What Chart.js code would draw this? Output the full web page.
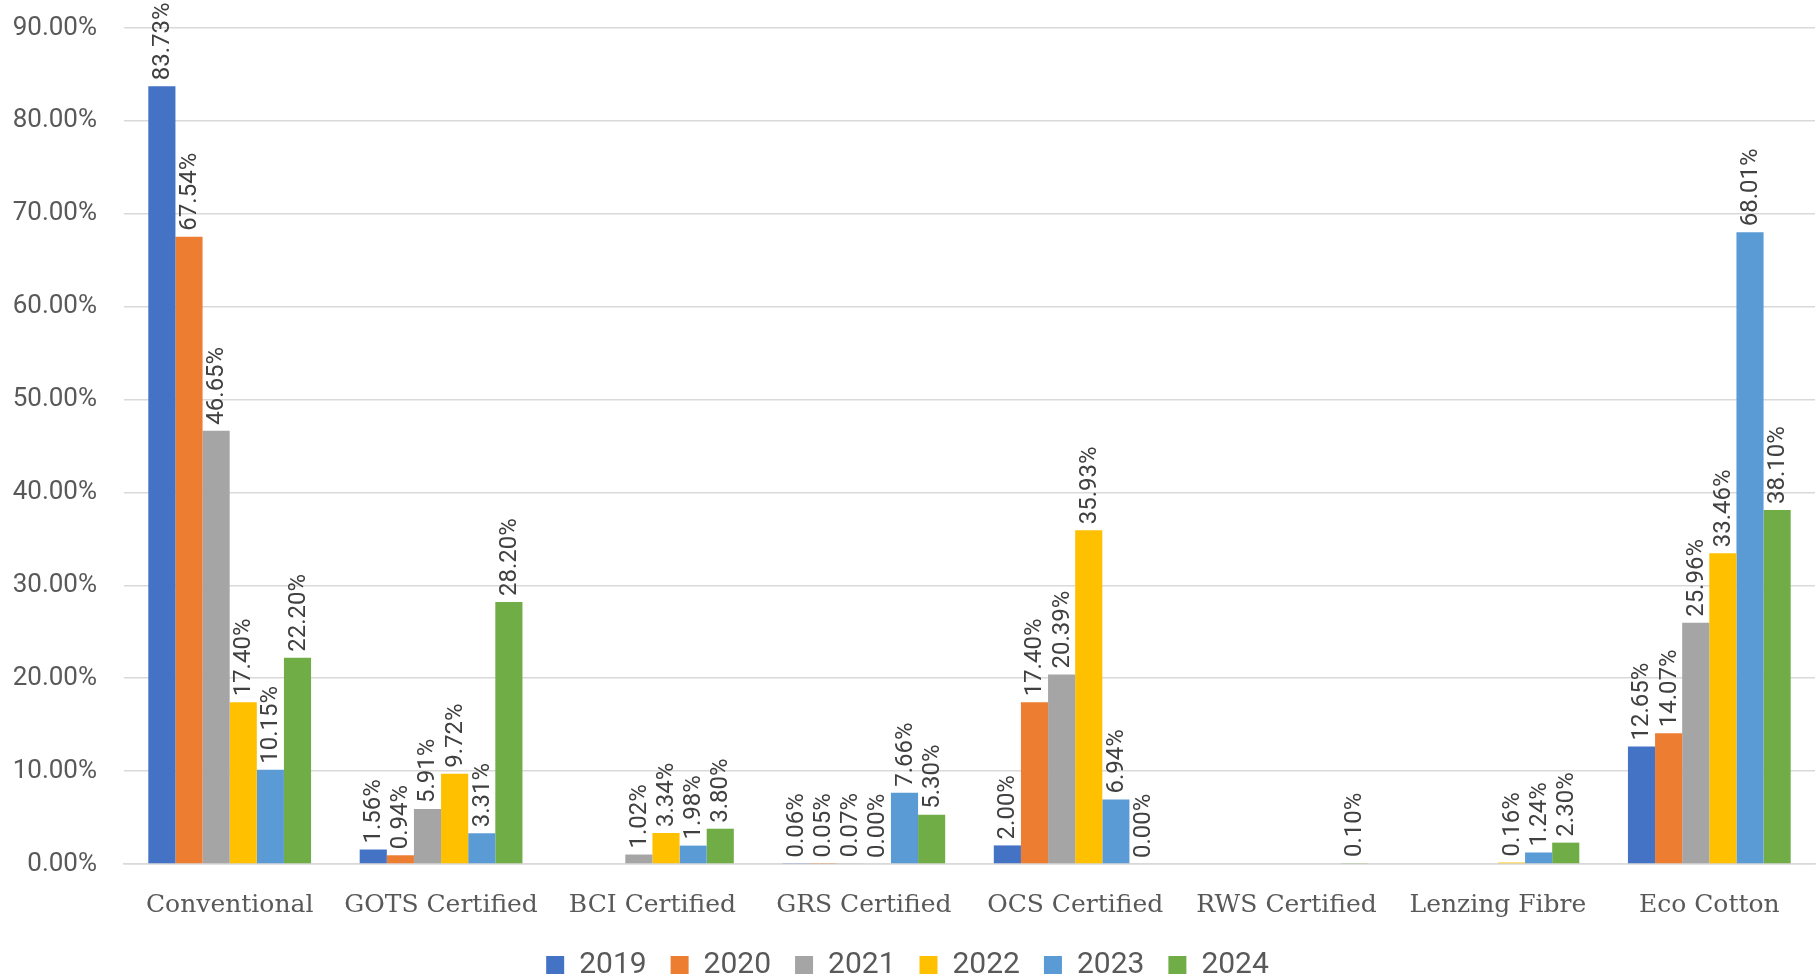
<!DOCTYPE html>
<html lang="en">
<head>
    <meta charset="UTF-8">
    <title>Fibre share by certification</title>
    <script src="https://cdn.jsdelivr.net/npm/chart.js"></script>
    <style>
        html, body { margin: 0; padding: 0; background: #fff; }
        #wrap { width: 1817px; height: 978px; position: relative; }
    </style>
</head>
<body>
    <div id="wrap">
        <canvas id="myChart"></canvas>
    </div>

    <script>
        // categories / series
        const categories = ['Conventional', 'GOTS Certified', 'BCI Certified', 'GRS Certified',
                            'OCS Certified', 'RWS Certified', 'Lenzing Fibre', 'Eco Cotton'];
        const years = ['2019', '2020', '2021', '2022', '2023', '2024'];
        const colors = ['#4472C4', '#ED7D31', '#A5A5A5', '#FFC000', '#5B9BD5', '#70AD47'];

        // values in % (null = no bar / no label)
        const v2019 = [83.73, 1.56, null, 0.06, 2.00, null, null, 12.65];
        const v2020 = [67.54, 0.94, null, 0.05, 17.40, null, null, 14.07];
        const v2021 = [46.65, 5.91, 1.02, 0.07, 20.39, null, null, 25.96];
        const v2022 = [17.40, 9.72, 3.34, 0.00, 35.93, null, 0.16, 33.46];
        const v2023 = [10.15, 3.31, 1.98, 7.66, 6.94, null, 1.24, 68.01];
        const v2024 = [22.20, 28.20, 3.80, 5.30, 0.00, 0.10, 2.30, 38.10];
        const series = [v2019, v2020, v2021, v2022, v2023, v2024];

        const yTicks = [0, 10, 20, 30, 40, 50, 60, 70, 80, 90];

        // rotated value labels above each bar
        const valueLabels = {
            id: 'valueLabels',
            afterDatasetsDraw(chart) {
                const ctx = chart.ctx;
                ctx.save();
                ctx.font = '24px Roboto';
                ctx.fillStyle = '#404040';
                ctx.textAlign = 'left';
                ctx.textBaseline = 'middle';
                chart.data.datasets.forEach((ds, i) => {
                    const meta = chart.getDatasetMeta(i);
                    meta.data.forEach((bar, j) => {
                        const val = ds.data[j];
                        if (val === null || val === undefined) return;
                        ctx.save();
                        ctx.translate(bar.x, bar.y - 6);
                        ctx.rotate(-Math.PI / 2);
                        ctx.fillText(val.toFixed(2) + '%', 0, 1);
                        ctx.restore();
                    });
                });
                ctx.restore();
            }
        };

        const data = {
            labels: categories,
            datasets: series.map((vals, i) => ({
                label: years[i],
                data: vals,
                backgroundColor: colors[i],
                borderWidth: 0,
                categoryPercentage: 0.77,
                barPercentage: 1.0
            }))
        };

        const options = {
            responsive: true,
            maintainAspectRatio: false,
            animation: false,
            layout: { padding: { top: 28, right: 2, left: 0, bottom: -12 } },
            plugins: {
                tooltip: { enabled: false },
                legend: {
                    position: 'bottom',
                    labels: {
                        boxWidth: 18,
                        boxHeight: 18,
                        padding: 24,
                        color: '#595959',
                        font: { family: 'Roboto', size: 30 }
                    }
                }
            },
            scales: {
                x: {
                    grid: { display: false, drawTicks: false },
                    border: { color: '#d9d9d9', width: 1.5 },
                    ticks: {
                        color: '#595959',
                        padding: 26,
                        font: { family: 'DejaVu Serif', size: 25 }
                    },
                    afterFit(scale) { scale.height = 62; }
                },
                y: {
                    min: 0,
                    max: 90,
                    afterBuildTicks(scale) { scale.ticks = yTicks.map(v => ({ value: v })); },
                    grid: { color: '#d9d9d9', lineWidth: 1.5, drawTicks: false },
                    border: { display: false },
                    ticks: {
                        color: '#595959',
                        padding: 27,
                        font: { family: 'Roboto', size: 26 },
                        callback: v => v.toFixed(2) + '%'
                    },
                    afterFit(scale) {
                        scale.width = 124;
                        scale.paddingTop = 0;
                        scale.paddingBottom = 0;
                    }
                }
            }
        };

        const ctx = document.querySelector('#myChart').getContext('2d');
        const myChart = new Chart(ctx, {
            type: 'bar',
            data: data,
            options: options,
            plugins: [valueLabels]
        });
    </script>
</body>
</html>
